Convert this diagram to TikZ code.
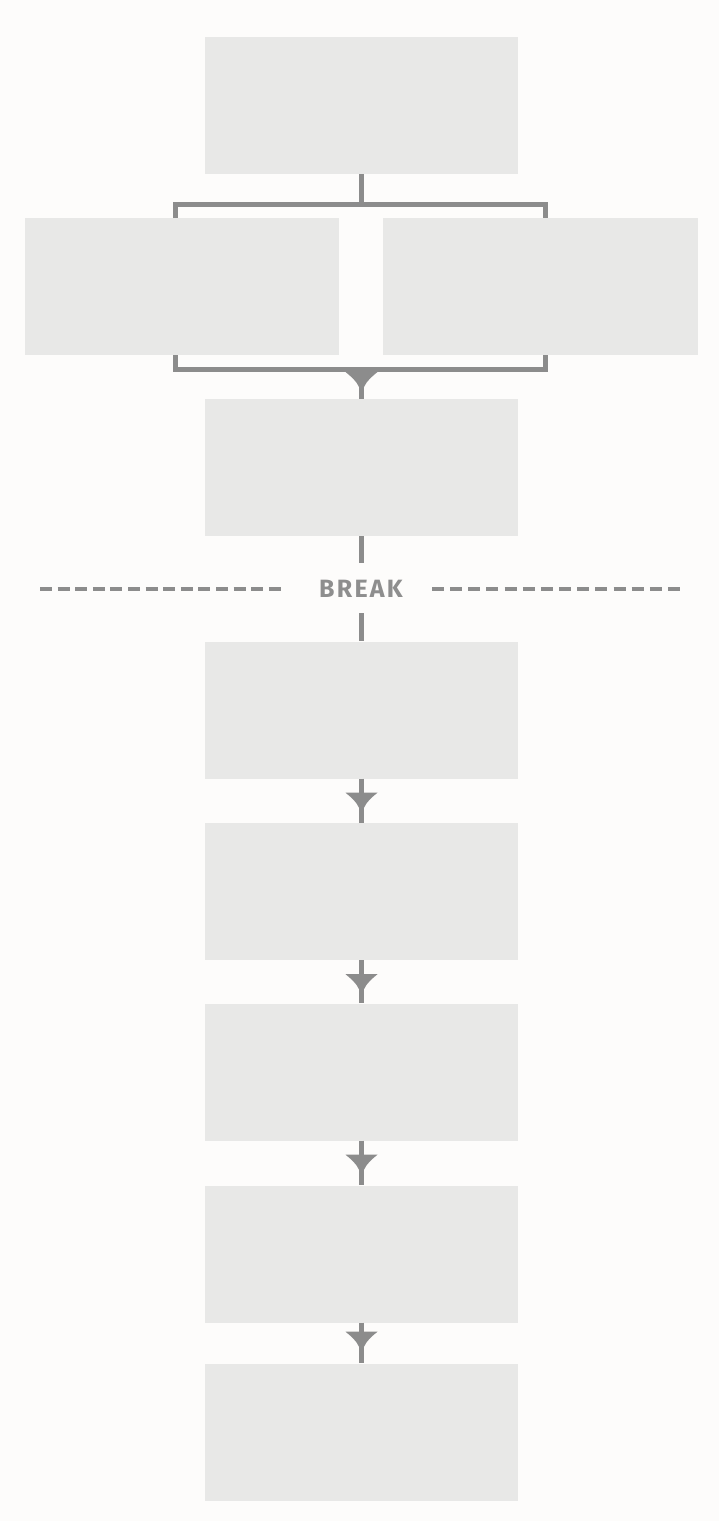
\documentclass[tikz,border=0pt]{standalone}
\usepackage{fontspec}
\newfontfamily\brkfont[LetterSpace=9]{Fira Sans}
\usetikzlibrary{decorations.markings}
\definecolor{bgc}{HTML}{FDFCFB}
\definecolor{boxc}{HTML}{E8E8E7}
\definecolor{linec}{HTML}{8C8C8C}
\definecolor{txtc}{HTML}{8E8E8E}
\tikzset{
  x=1pt, y=-1pt,
  panel/.style={fill=boxc, draw=none, minimum width=313pt, minimum height=137pt, inner sep=0pt},
  conn/.style={draw=linec, line width=5pt},
  funnel/.style={postaction={decorate}, decoration={markings, mark=at position #1 with {
      \fill[linec] (-8,16) .. controls (-4,11) and (1,5) .. (7,2.5) -- (7,-2.5) .. controls (1,-5) and (-4,-11) .. (-8,-16) -- cycle;}}},
  breakline/.style={draw=linec, line width=3.5pt, dash pattern=on 12pt off 5.6pt},
}
\begin{document}
\begin{tikzpicture}
\fill[bgc] (0,0) rectangle (719,1521);
\useasboundingbox (0,0) rectangle (719,1521);

\node[panel] (b1) at (361.5,105.5) {};
\node[panel, minimum width=314pt] (bl) at (182,286.5) {};
\node[panel, minimum width=315pt] (br) at (540.5,286.5) {};
\node[panel] (b3) at (361.5,467.5) {};
\node[panel] (b4) at (361.5,710) {};
\node[panel] (b5) at (361.5,891.5) {};
\node[panel] (b6) at (361.5,1072) {};
\node[panel] (b7) at (361.5,1254) {};
\node[panel] (b8) at (361.5,1432) {};

% top bracket
\coordinate (tl) at (175,218);
\coordinate (tr) at (545,218);
\coordinate (tbar) at (361.5,204);
\draw[conn] (b1.south) -- (tbar);
\draw[conn] (tl) -- ++(0,-14) -| (tr);

% bottom bracket
\coordinate (bll) at (175,355);
\coordinate (brr) at (545,355);
\coordinate (bbar) at (361.5,369);
\draw[conn] (bll) -- ++(0,14) -| (brr);
\draw[conn, funnel=11pt] (bbar) -- (b3.north);

% break
\draw[draw=linec, line width=5pt, dash pattern=on 27pt off 50pt on 40pt off 0pt] (b3.south) -- (b4.north);
\node[text=txtc, font=\brkfont\bfseries\fontsize{25}{27}\selectfont, inner sep=0pt] (brk) at (361,589) {BREAK};
\coordinate (l1) at (40,589);
\coordinate (l2) at (281,589);
\coordinate (r1) at (432,589);
\coordinate (r2) at (680,589);
\draw[breakline] (l1) -- (l2);
\draw[breakline, dash pattern=on 12pt off 6.15pt] (r1) -- (r2);

% arrows
\draw[conn, funnel=22pt] (b4.south) -- (b5.north);
\draw[conn, funnel=22pt] (b5.south) -- (b6.north);
\draw[conn, funnel=22pt] (b6.south) -- (b7.north);
\draw[conn, funnel=17pt] (b7.south) -- (b8.north);
\end{tikzpicture}
\end{document}
